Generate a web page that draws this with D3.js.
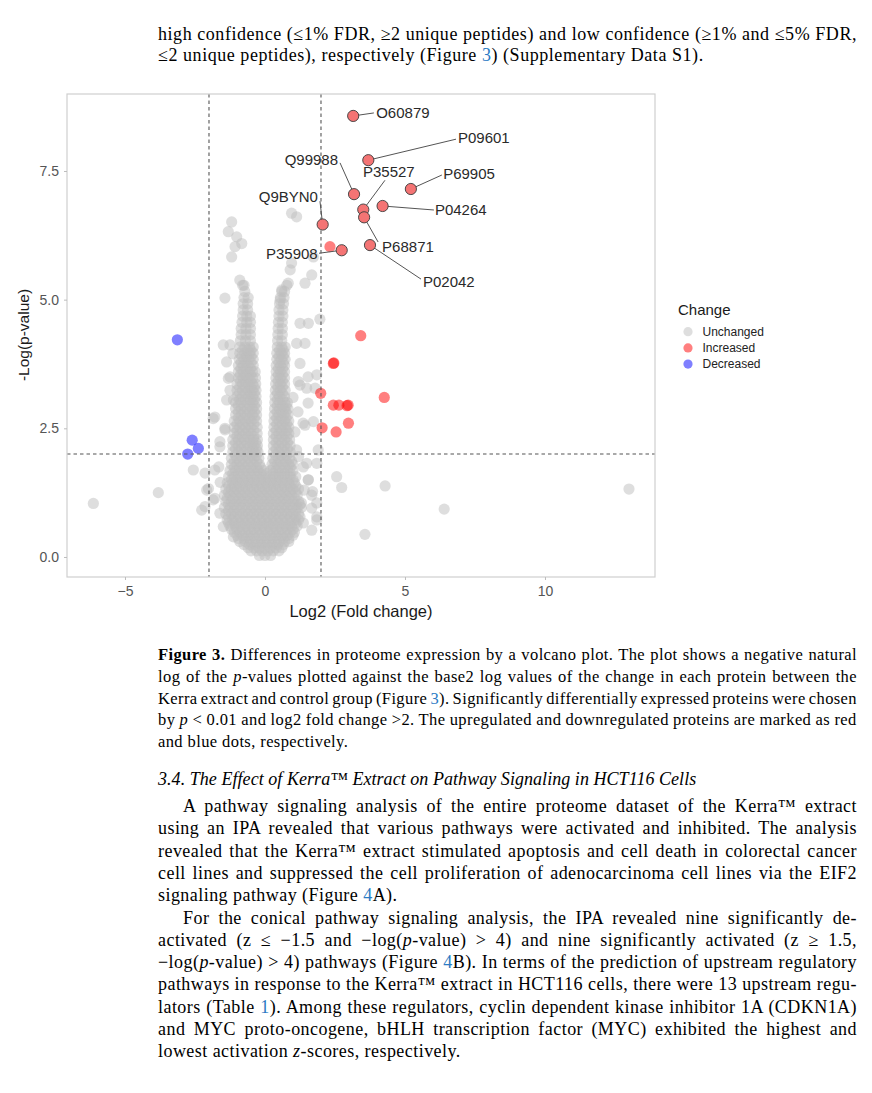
<!DOCTYPE html>
<html><head><meta charset="utf-8">
<script src="https://cdn.jsdelivr.net/npm/d3@7"></script>
<style>body{margin:0;background:#fff}</style>
</head><body>
<svg id="c" width="872" height="1093"></svg>
<script>
// ---------------- DATA ----------------
// dense core of unchanged proteins, read row by row: [ -log(p), [log2FC ...] ]
const unchangedCore = [
 [0.03, [-0.2, 0.0, 0.2]],
 [0.12, [-0.5, -0.3, -0.1, 0.1, 0.3, 0.5]],
 [0.24, [-0.75, -0.55, -0.35, -0.15, 0.05, 0.25, 0.45, 0.65]],
 [0.36, [-0.95, -0.75, -0.55, -0.35, -0.15, 0.05, 0.25, 0.45, 0.65, 0.85]],
 [0.48, [-1.1, -0.9, -0.7, -0.5, -0.3, -0.1, 0.1, 0.3, 0.5, 0.7, 0.9, 1.05]],
 [0.6, [-1.25, -1.05, -0.85, -0.65, -0.45, -0.25, -0.05, 0.15, 0.35, 0.55, 0.75, 0.95, 1.15]],
 [0.72, [-1.35, -1.15, -0.95, -0.75, -0.55, -0.35, -0.15, 0.05, 0.25, 0.45, 0.65, 0.85, 1.05, 1.2]],
 [0.84, [-1.4, -1.2, -1.0, -0.8, -0.6, -0.4, -0.2, 0.0, 0.2, 0.4, 0.6, 0.8, 1.0, 1.2]],
 [0.96, [-1.45, -1.25, -1.05, -0.85, -0.65, -0.45, -0.25, -0.05, 0.15, 0.35, 0.55, 0.75, 0.95, 1.15, 1.3]],
 [1.08, [-1.4, -1.2, -1.0, -0.8, -0.6, -0.4, -0.2, 0.0, 0.2, 0.4, 0.6, 0.8, 1.0, 1.2]],
 [1.2, [-1.45, -1.25, -1.05, -0.85, -0.65, -0.45, -0.25, -0.05, 0.15, 0.35, 0.55, 0.75, 0.95, 1.15]],
 [1.32, [-1.4, -1.2, -1.0, -0.8, -0.6, -0.4, -0.2, 0.0, 0.2, 0.4, 0.6, 0.8, 1.0, 1.2]],
 [1.44, [-1.35, -1.15, -0.95, -0.75, -0.55, -0.35, -0.15, 0.05, 0.25, 0.45, 0.65, 0.85, 1.05]],
 [1.56, [-1.3, -1.1, -0.9, -0.7, -0.5, -0.3, -0.1, 0.1, 0.3, 0.5, 0.7, 0.9, 1.1]],
 [1.68, [-1.25, -1.05, -0.85, -0.65, -0.45, -0.25, -0.05, 0.2, 0.4, 0.6, 0.8, 1.0]],
 [1.8, [-1.2, -1.0, -0.8, -0.6, -0.4, -0.2, 0.25, 0.45, 0.65, 0.85, 1.0]],
 [1.92, [-1.2, -1.0, -0.8, -0.6, -0.4, -0.22, 0.28, 0.48, 0.68, 0.88]],
 [2.04, [-1.15, -0.95, -0.75, -0.55, -0.38, -0.25, 0.3, 0.5, 0.7, 0.9]],
 [2.16, [-1.15, -0.95, -0.75, -0.55, -0.4, -0.27, 0.3, 0.5, 0.7, 0.9]],
 [2.28, [-1.15, -0.95, -0.75, -0.55, -0.4, -0.27, 0.3, 0.5, 0.7, 0.88]],
 [2.4, [-1.1, -0.9, -0.7, -0.5, -0.28, 0.3, 0.5, 0.7, 0.85]],
 [2.52, [-1.1, -0.9, -0.7, -0.5, -0.28, 0.32, 0.52, 0.72, 0.85]],
 [2.64, [-1.1, -0.9, -0.7, -0.5, -0.3, 0.32, 0.5, 0.7, 0.85]],
 [2.76, [-1.05, -0.85, -0.65, -0.45, -0.3, 0.33, 0.5, 0.68, 0.82]],
 [2.88, [-1.05, -0.85, -0.65, -0.45, -0.3, 0.34, 0.52, 0.7, 0.82]],
 [3.0, [-1.05, -0.85, -0.65, -0.45, -0.3, 0.35, 0.52, 0.7, 0.8]],
 [3.12, [-1.0, -0.8, -0.6, -0.45, -0.32, 0.36, 0.52, 0.7]],
 [3.24, [-1.0, -0.8, -0.6, -0.45, -0.32, 0.37, 0.55, 0.72]],
 [3.36, [-1.0, -0.8, -0.6, -0.45, -0.33, 0.38, 0.55, 0.7]],
 [3.48, [-0.95, -0.78, -0.6, -0.45, -0.34, 0.39, 0.55, 0.7]],
 [3.6, [-0.95, -0.78, -0.6, -0.45, -0.35, 0.4, 0.55, 0.7]],
 [3.72, [-0.95, -0.78, -0.6, -0.42, 0.4, 0.56, 0.7]],
 [3.84, [-0.92, -0.75, -0.58, -0.42, 0.42, 0.58, 0.72]],
 [3.96, [-0.9, -0.72, -0.55, -0.42, 0.42, 0.58, 0.7]],
 [4.08, [-0.9, -0.72, -0.55, -0.42, 0.44, 0.6, 0.72]],
 [4.2, [-0.88, -0.7, -0.52, 0.45, 0.6]],
 [4.32, [-0.85, -0.68, -0.52, 0.46, 0.62]],
 [4.44, [-0.85, -0.68, -0.52, 0.47, 0.62]],
 [4.56, [-0.82, -0.65, -0.52, 0.48, 0.62]],
 [4.68, [-0.8, -0.65, -0.52, 0.5, 0.64]],
 [4.8, [-0.78, -0.62, 0.5, 0.64]],
 [4.92, [-0.78, -0.62, 0.52, 0.66]],
 [5.04, [-0.75, -0.6, 0.55, 0.68]],
 [5.16, [-0.72, 0.6, 0.7]],
 [5.28, [-0.75, 0.78]]
];
// second, interleaved pass over the same dense region
const unchangedCoreB = [
 [0.18, [-0.6, -0.4, -0.2, 0.0, 0.2, 0.4, 0.6]],
 [0.30, [-0.9, -0.7, -0.5, -0.3, -0.1, 0.1, 0.3, 0.5, 0.7, 0.85]],
 [0.42, [-1.0, -0.8, -0.6, -0.4, -0.2, 0.0, 0.2, 0.4, 0.6, 0.8, 1.0]],
 [0.54, [-1.2, -1.0, -0.8, -0.6, -0.4, -0.2, 0.0, 0.2, 0.4, 0.6, 0.8, 1.0]],
 [0.66, [-1.3, -1.1, -0.9, -0.7, -0.5, -0.3, -0.1, 0.1, 0.3, 0.5, 0.7, 0.9, 1.1]],
 [0.78, [-1.3, -1.1, -0.9, -0.7, -0.5, -0.3, -0.1, 0.1, 0.3, 0.5, 0.7, 0.9, 1.1, 1.25]],
 [0.90, [-1.3, -1.1, -0.9, -0.7, -0.5, -0.3, -0.1, 0.1, 0.3, 0.5, 0.7, 0.9, 1.1]],
 [1.02, [-1.3, -1.1, -0.9, -0.7, -0.5, -0.3, -0.1, 0.1, 0.3, 0.5, 0.7, 0.9, 1.1, 1.25]],
 [1.14, [-1.35, -1.15, -0.95, -0.75, -0.55, -0.35, -0.15, 0.05, 0.25, 0.45, 0.65, 0.85, 1.05]],
 [1.26, [-1.3, -1.1, -0.9, -0.7, -0.5, -0.3, -0.1, 0.1, 0.3, 0.5, 0.7, 0.9, 1.1]],
 [1.38, [-1.3, -1.1, -0.9, -0.7, -0.5, -0.3, -0.1, 0.1, 0.3, 0.5, 0.7, 0.9, 1.1]],
 [1.50, [-1.2, -1.0, -0.8, -0.6, -0.4, -0.2, 0.0, 0.2, 0.4, 0.6, 0.8, 1.0]],
 [1.62, [-1.15, -0.95, -0.75, -0.55, -0.35, -0.15, 0.05, 0.3, 0.5, 0.7, 0.9]],
 [1.74, [-1.1, -0.9, -0.7, -0.5, -0.3, -0.15, 0.3, 0.5, 0.7, 0.9]],
 [1.86, [-1.1, -0.9, -0.7, -0.5, -0.3, 0.35, 0.55, 0.75, 0.95]],
 [1.98, [-1.05, -0.85, -0.65, -0.45, -0.3, 0.38, 0.58, 0.78]],
 [2.10, [-1.05, -0.85, -0.65, -0.45, -0.3, 0.4, 0.6, 0.8]],
 [2.22, [-1.05, -0.85, -0.65, -0.45, -0.32, 0.4, 0.6, 0.8]],
 [2.34, [-1.0, -0.8, -0.6, -0.4, 0.4, 0.6, 0.78]],
 [2.46, [-1.0, -0.8, -0.6, -0.4, 0.4, 0.6, 0.78]],
 [2.58, [-1.0, -0.8, -0.6, -0.4, 0.42, 0.62, 0.78]],
 [2.70, [-0.95, -0.75, -0.55, -0.38, 0.42, 0.6, 0.75]],
 [2.82, [-0.95, -0.75, -0.55, -0.38, 0.43, 0.6, 0.75]],
 [2.94, [-0.95, -0.75, -0.55, -0.38, 0.44, 0.62, 0.76]],
 [3.06, [-0.9, -0.7, -0.52, -0.38, 0.45, 0.62]],
 [3.18, [-0.9, -0.7, -0.52, -0.38, 0.45, 0.62]],
 [3.30, [-0.9, -0.7, -0.52, -0.38, 0.46, 0.62]],
 [3.42, [-0.88, -0.7, -0.52, 0.47, 0.62]],
 [3.54, [-0.88, -0.7, -0.52, 0.48, 0.62]],
 [3.66, [-0.86, -0.68, -0.52, 0.48, 0.63]],
 [3.78, [-0.85, -0.68, -0.5, 0.5, 0.65]],
 [3.90, [-0.82, -0.65, -0.5, 0.5, 0.65]],
 [4.02, [-0.8, -0.63, -0.5, 0.52, 0.65]]
];
// scattered unchanged proteins: [log2FC, -log(p)]
const unchangedScatter = [
 [0.95,6.68],[1.13,6.61],[-1.19,6.51],[-1.31,6.32],[-1.01,6.22],[-0.83,6.09],[-1.07,6.03],
 [-1.19,5.83],[0.95,5.71],[1.73,5.83],[0.9,5.58],[-0.9,5.38],[-0.8,5.28],[1.43,5.32],
 [1.67,5.48],[-1.43,5.03],[0.6,5.19],[0.83,5.32],[0.54,4.99],[1.25,4.54],[1.55,4.54],
 [1.96,4.62],[-1.49,4.12],[-1.25,4.12],[1.43,4.15],[1.13,4.15],[-1.37,3.79],[1.25,3.76],
 [-1.31,3.47],[1.19,3.41],[1.49,3.28],[1.79,3.28],[-1.13,3.05],[-1.85,2.69],[1.43,2.56],
 [1.73,2.63],[-1.43,2.5],[-1.61,2.14],[-2.56,1.69],[-2.14,1.63],[-3.81,1.25],[-6.13,1.04],
 [-2.08,1.3],[-2.26,0.91],[-1.85,1.11],[-1.61,0.85],[1.9,2.08],[1.85,1.82],[1.49,1.82],
 [1.7,1.27],[1.67,0.95],[1.85,0.72],[1.67,0.52],[1.55,1.5],[2.56,1.56],[2.74,1.35],
 [4.29,1.38],[6.4,0.93],[3.57,0.44],[13.0,1.32],
 [1.25,3.34],[1.54,3.5],[1.85,3.54],[1.18,2.82],[1.54,2.99],[1.36,2.6],[1.07,2.43],
 [1.13,2.08],[1.37,1.75],[1.54,1.5],[1.67,1.2],[1.85,1.05],[1.85,0.78],[1.37,0.66],
 [-1.79,2.72],[-1.43,2.47],[-1.61,2.24],[-1.37,3.05],[-1.25,3.24],[-1.25,3.5],
 [-1.79,1.69],[-2.02,1.33],[-2.14,0.98],[-1.79,1.14],[-1.49,0.59],[-1.13,0.39],
 [1.3,1.05],[1.4,1.3],[-1.6,1.45],[-1.65,1.75],[1.2,1.95],[1.0,3.1],[-1.15,3.95]
];
const increased = [
 [3.42,4.30],[2.44,3.76],[2.46,3.77],[1.99,3.18],[2.44,2.95],[2.64,2.95],[2.93,2.94],
 [2.97,2.95],[4.26,3.10],[2.04,2.51],[2.54,2.43],[2.98,2.60],[2.32,6.03]
];
const decreased = [[-3.13,4.22],[-2.6,2.27],[-2.38,2.11],[-2.76,2.0]];
const labelIds  = ["O60879","P09601","Q99988","P35527","P68871","P02042","P69905","P04264","Q9BYN0","P35908"];
const labelFC   = [3.15, 3.69, 3.18, 3.51, 3.54, 3.75, 5.21, 4.20, 2.06, 2.74];
const labelLogP = [8.57, 7.71, 7.05, 6.75, 6.60, 6.06, 7.15, 6.82, 6.46, 5.96];
const xTicks = [-5, 0, 5, 10];
const yTicks = [0, 2.5, 5, 7.5];
const fcCut = [-2, 2];
const pCut = 2;
const legendNames = ["Unchanged", "Increased", "Decreased"];

// label placement (pixel offsets, layout only)
const labelLayout = {
 O60879:{dx:23,dy:-3.3,a:"start",ex:20.7,ey:-3},
 P09601:{dx:89.7,dy:-22.3,a:"start",ex:87.7,ey:-21},
 Q99988:{dx:-16,dy:-34.3,a:"end",ex:-14,ey:-31.3},
 P35527:{dx:-0.3,dy:-37.6,a:"start",ex:21.7,ey:-29.3},
 P68871:{dx:18,dy:29.4,a:"start",ex:14,ey:24.7},
 P02042:{dx:53,dy:36.7,a:"start",ex:51,ey:34},
 P69905:{dx:32.3,dy:-15,a:"start",ex:31,ey:-14},
 P04264:{dx:52.3,dy:4,a:"start",ex:51.3,ey:4},
 Q9BYN0:{dx:-4.7,dy:-27.6,a:"end",ex:-2.7,ey:-23.3},
 P35908:{dx:-24,dy:3.3,a:"end",ex:-22.7,ey:3}
};

// ---------------- CHART ----------------
const svg = d3.select("#c");
svg.append("rect").attr("width",872).attr("height",1093).attr("fill","#fff");
const SANS = "'Liberation Sans', Arial, Helvetica, sans-serif";
const SERIF = "'Liberation Serif', 'Times New Roman', serif";
const L=67, R=655, T=94, B=577;
const x = d3.scaleLinear().domain([-7.071, 13.929]).range([L, R]);
const y = d3.scaleLinear().domain([-0.389, 8.996]).range([B, T]);
const colors = {Unchanged:"#bebebe", Increased:"#ff0000", Decreased:"#0000ff"};
const r = 5.6;

const grey = [];
unchangedCore.concat(unchangedCoreB).forEach(([py, xs]) => xs.forEach(fx => grey.push([fx, py])));
unchangedScatter.forEach(p => grey.push(p));

const g = svg.append("g");
g.selectAll("circle.u").data(grey).join("circle").attr("class","u")
 .attr("cx",d=>x(d[0])).attr("cy",d=>y(d[1])).attr("r",r)
 .attr("fill",colors.Unchanged).attr("fill-opacity",0.5);
g.selectAll("circle.i").data(increased).join("circle").attr("class","i")
 .attr("cx",d=>x(d[0])).attr("cy",d=>y(d[1])).attr("r",r)
 .attr("fill",colors.Increased).attr("fill-opacity",0.5);
g.selectAll("circle.d").data(decreased).join("circle").attr("class","d")
 .attr("cx",d=>x(d[0])).attr("cy",d=>y(d[1])).attr("r",r)
 .attr("fill",colors.Decreased).attr("fill-opacity",0.5);

// cutoff lines
fcCut.forEach(v => g.append("line").attr("x1",x(v)).attr("x2",x(v)).attr("y1",T).attr("y2",B)
 .attr("stroke","#555").attr("stroke-width",1.1).attr("stroke-dasharray","3.5,3"));
g.append("line").attr("x1",L).attr("x2",R).attr("y1",y(pCut)).attr("y2",y(pCut))
 .attr("stroke","#555").attr("stroke-width",1.1).attr("stroke-dasharray","3.5,3");

// labelled points
const lab = labelIds.map((id,i)=>({id, fx:labelFC[i], py:labelLogP[i], ...labelLayout[id]}));
g.selectAll("line.seg").data(lab).join("line").attr("class","seg")
 .attr("x1",d=>x(d.fx)).attr("y1",d=>y(d.py))
 .attr("x2",d=>x(d.fx)+d.ex).attr("y2",d=>y(d.py)+d.ey)
 .attr("stroke","#555").attr("stroke-width",1);
g.selectAll("circle.l").data(lab).join("circle").attr("class","l")
 .attr("cx",d=>x(d.fx)).attr("cy",d=>y(d.py)).attr("r",r)
 .attr("fill","#f47474").attr("stroke","#3a3a3a").attr("stroke-width",0.9);
g.selectAll("text.lt").data(lab).join("text").attr("class","lt")
 .attr("x",d=>x(d.fx)+d.dx).attr("y",d=>y(d.py)+d.dy)
 .attr("dy","0.35em").attr("text-anchor",d=>d.a)
 .attr("font-family",SANS).attr("font-size",15).attr("fill","#2a2a2a").text(d=>d.id);

// panel border
svg.append("rect").attr("x",L).attr("y",T).attr("width",R-L).attr("height",B-T)
 .attr("fill","none").attr("stroke","#cfcfcf").attr("stroke-width",1.2);

// axes
const xa = svg.append("g").attr("transform",`translate(0,${B})`)
 .call(d3.axisBottom(x).tickValues(xTicks).tickSize(3).tickPadding(6).tickFormat(d3.format("d")));
const ya = svg.append("g").attr("transform",`translate(${L},0)`)
 .call(d3.axisLeft(y).tickValues(yTicks).tickSize(3).tickPadding(5).tickFormat(d3.format(".1f")));
[xa, ya].forEach(a => {
 a.select(".domain").remove();
 a.selectAll(".tick line").attr("stroke","#bdbdbd");
 a.selectAll(".tick text").attr("fill","#555").attr("font-size",14).attr("font-family",SANS);
});
svg.append("text").attr("x",(L+R)/2).attr("y",617).attr("text-anchor","middle")
 .attr("font-family",SANS).attr("font-size",16.5).attr("fill","#1a1a1a").text("Log2 (Fold change)");
svg.append("text").attr("transform","translate(29,335) rotate(-90)").attr("text-anchor","middle")
 .attr("font-family",SANS).attr("font-size",15.5).attr("fill","#1a1a1a").text("-Log(p-value)");

// legend
const lg = svg.append("g");
lg.append("text").attr("x",678).attr("y",315).attr("font-family",SANS).attr("font-size",15)
 .attr("fill","#1a1a1a").text("Change");
legendNames.forEach((n,i)=>{
 const yy = 331.7 + i*16.2;
 lg.append("circle").attr("cx",688).attr("cy",yy).attr("r",4.6).attr("fill",colors[n]).attr("fill-opacity",0.5);
 lg.append("text").attr("x",702.5).attr("y",yy).attr("dy","0.36em").attr("font-family",SANS)
  .attr("font-size",12).attr("fill","#222").text(n);
});

// ---------------- PAGE TEXT ----------------
const LEFT = 158, RIGHTX = 857, INDENT = 183;
function line(str, xPos, yPos, size, justify, baseItalic, ls){
 const t = svg.append("text").attr("x",xPos).attr("y",yPos).attr("font-family",SERIF)
  .attr("font-size",size).attr("fill","#000").style("white-space","pre")
  .style("letter-spacing", (ls||0) + "px");
 if (baseItalic) t.attr("font-style","italic");
 const parts = str.split(/(\*\*[^*]+\*\*|\*[^*]+\*|\[[^\]]+\])/).filter(s=>s.length);
 parts.forEach(p=>{
  const ts = t.append("tspan");
  if (p.startsWith("**")) ts.attr("font-weight","bold").text(p.slice(2,-2));
  else if (p.startsWith("*")) ts.attr("font-style","italic").text(p.slice(1,-1));
  else if (p.startsWith("[")) ts.attr("fill","#2b7bc4").text(p.slice(1,-1));
  else ts.text(p);
 });
 if (justify){
  const w = t.node().getBBox().width;
  const plain = str.replace(/\*|\[|\]/g,"");
  const n = (plain.match(/ /g)||[]).length;
  if (n>0) t.style("word-spacing", ((RIGHTX - xPos - w)/n) + "px");
 }
}
const topLines = [
 ["high confidence (≤1% FDR, ≥2 unique peptides) and low confidence (≥1% and ≤5% FDR,", true],
 ["≤2 unique peptides), respectively (Figure [3]) (Supplementary Data S1).", false]
];
topLines.forEach((l,i)=>line(l[0], LEFT, 40 + i*21, 18, l[1], false, 0.55));

const captionLines = [
 ["**Figure 3.** Differences in proteome expression by a volcano plot. The plot shows a negative natural", true],
 ["log of the *p*-values plotted against the base2 log values of the change in each protein between the", true],
 ["Kerra extract and control group (Figure [3]). Significantly differentially expressed proteins were chosen", true],
 ["by *p* < 0.01 and log2 fold change >2. The upregulated and downregulated proteins are marked as red", true],
 ["and blue dots, respectively.", false]
];
captionLines.forEach((l,i)=>line(l[0], LEFT, 660 + i*21.8, 16.5, l[1], false, 0.4));

line("3.4. The Effect of Kerra™ Extract on Pathway Signaling in HCT116 Cells", LEFT, 785, 18, false, true, 0.05);

const bodyLines = [
 ["A pathway signaling analysis of the entire proteome dataset of the Kerra™ extract", true, true],
 ["using an IPA revealed that various pathways were activated and inhibited. The analysis", true],
 ["revealed that the Kerra™ extract stimulated apoptosis and cell death in colorectal cancer", true],
 ["cell lines and suppressed the cell proliferation of adenocarcinoma cell lines via the EIF2", true],
 ["signaling pathway (Figure [4]A).", false],
 ["For the conical pathway signaling analysis, the IPA revealed nine significantly de-", true, true],
 ["activated (z ≤ −1.5 and −log(*p*-value) > 4) and nine significantly activated (z ≥ 1.5,", true],
 ["−log(*p*-value) > 4) pathways (Figure [4]B). In terms of the prediction of upstream regulatory", true],
 ["pathways in response to the Kerra™ extract in HCT116 cells, there were 13 upstream regu-", true],
 ["lators (Table [1]). Among these regulators, cyclin dependent kinase inhibitor 1A (CDKN1A)", true],
 ["and MYC proto-oncogene, bHLH transcription factor (MYC) exhibited the highest and", true],
 ["lowest activation *z*-scores, respectively.", false]
];
bodyLines.forEach((l,i)=>line(l[0], l[2] ? INDENT : LEFT, 812 + i*22.3, 18, l[1], false, 0.45));
</script>
</body></html>
